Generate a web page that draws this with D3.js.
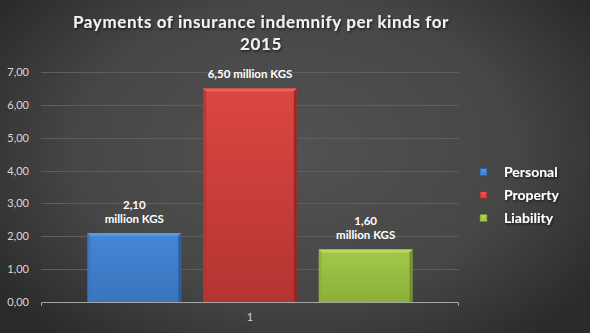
<!DOCTYPE html>
<html><head><meta charset="utf-8">
<script src="https://cdn.jsdelivr.net/npm/d3@7"></script>
<style>html,body{margin:0;padding:0;background:#3a3a3a;}svg{display:block;}</style>
</head><body>
<svg id="c" width="590" height="333"></svg>
<script>
const titleLines = ["Payments of insurance indemnify per kinds for", "2015"];
const categories = ["1"];
const seriesNames = ["Personal", "Property", "Liability"];
const values = [2.10, 6.50, 1.60];
const labelLines = [["2,10", "million KGS"], ["6,50 million KGS"], ["1,60", "million KGS"]];
const yTicks = [0, 1, 2, 3, 4, 5, 6, 7];
const yTickLabels = ["0,00", "1,00", "2,00", "3,00", "4,00", "5,00", "6,00", "7,00"];
const colors = [
  {top: "#5a9ae3", main1: "#4487d6", main2: "#3a74bd", edge: "#2c5b96"},
  {top: "#ec615d", main1: "#dc4642", main2: "#b43431", edge: "#8a2624"},
  {top: "#b9dc63", main1: "#a2c94a", main2: "#8caf3b", edge: "#6c8a2a"}
];

const svg = d3.select("#c");
const W = 590, H = 333;
const defs = svg.append("defs");
const bg = defs.append("radialGradient").attr("id", "bg")
  .attr("cx", 0.5).attr("cy", 0.45).attr("r", 0.62).attr("fx", 0.5).attr("fy", 0.45)
  .attr("gradientTransform", "translate(0.5,0.45) scale(1,1.2) translate(-0.5,-0.45)");
bg.append("stop").attr("offset", 0).attr("stop-color", "#525252");
bg.append("stop").attr("offset", 0.6).attr("stop-color", "#464646");
bg.append("stop").attr("offset", 1).attr("stop-color", "#2a2a2a");
svg.append("rect").attr("width", W).attr("height", H).attr("fill", "url(#bg)");

const sh = defs.append("filter").attr("id", "sh").attr("x", "-10%").attr("y", "-30%").attr("width", "120%").attr("height", "160%");
sh.append("feDropShadow").attr("dx", 1).attr("dy", 1.5).attr("stdDeviation", 1).attr("flood-color", "#000").attr("flood-opacity", 0.6);

colors.forEach((c, i) => {
  const g = defs.append("linearGradient").attr("id", "bar" + i).attr("x1", 0).attr("y1", 0).attr("x2", 0).attr("y2", 1);
  g.append("stop").attr("offset", 0).attr("stop-color", c.main1);
  g.append("stop").attr("offset", 1).attr("stop-color", c.main2);
});

const plot = {left: 41, right: 459, top: 72, bottom: 302};
const y = d3.scaleLinear().domain([0, 7]).range([plot.bottom, plot.top]);
const x0 = d3.scaleBand().domain(categories).range([plot.left, plot.right]).paddingInner(0).paddingOuter(0.143);
const x1 = d3.scaleBand().domain(seriesNames).range([0, x0.bandwidth()]).paddingInner(0.19).paddingOuter(0);

// gridlines
svg.append("g").selectAll("line").data(yTicks.slice(1)).join("line")
  .attr("x1", plot.left).attr("x2", plot.right)
  .attr("y1", d => Math.round(y(d)) + 0.5).attr("y2", d => Math.round(y(d)) + 0.5)
  .attr("stroke", "#5e5e5e").attr("stroke-width", 1);

// y labels
svg.append("g").selectAll("text").data(yTicks).join("text")
  .attr("x", 29).attr("y", d => y(d) + 4)
  .attr("text-anchor", "end").attr("font-family", "Lato, 'Open Sans', sans-serif").attr("font-size", 11)
  .attr("fill", "#d9d9d9").text((d, i) => yTickLabels[i]);

// bars
const data = seriesNames.map((s, i) => ({s, v: values[i], i}));
const bars = svg.append("g").selectAll("g").data(data).join("g")
  .attr("transform", d => `translate(${x0("1") + x1(d.s)},0)`);
const bw = x1.bandwidth();
bars.append("rect").attr("x", 0).attr("y", d => y(d.v)).attr("width", bw).attr("height", d => y(0) - y(d.v))
  .attr("fill", d => `url(#bar${d.i})`);
bars.append("path").attr("d", d => {
  const t = y(d.v);
  return `M0,${t} L${bw},${t} L${bw - 3},${t + 3} L3,${t + 3} Z`;
}).attr("fill", d => colors[d.i].top).attr("opacity", 0.9);
bars.append("path").attr("d", d => {
  const t = y(d.v), b = y(0);
  return `M0,${t} L3,${t + 3} L3,${b} L0,${b} Z`;
}).attr("fill", d => colors[d.i].main2).attr("opacity", 0.8);
bars.append("path").attr("d", d => {
  const t = y(d.v), b = y(0);
  return `M${bw},${t} L${bw - 3},${t + 3} L${bw - 3},${b} L${bw},${b} Z`;
}).attr("fill", d => colors[d.i].edge).attr("opacity", 0.85);

// data labels
bars.each(function(d) {
  const lines = labelLines[d.i];
  const g = d3.select(this);
  lines.forEach((ln, k) => {
    g.append("text").attr("x", bw / 2)
      .attr("y", y(d.v) - 10 - (lines.length - 1 - k) * 14)
      .attr("text-anchor", "middle").attr("font-family", "Lato, 'Open Sans', sans-serif")
      .attr("font-weight", "bold").attr("font-size", 11.5).attr("fill", "#ffffff").text(ln);
  });
});

// axis line
svg.append("path").attr("d", `M${plot.left + 0.5},${plot.bottom + 4} L${plot.left + 0.5},${plot.bottom + 0.5} L${plot.right - 0.5},${plot.bottom + 0.5} L${plot.right - 0.5},${plot.bottom + 4}`)
  .attr("fill", "none").attr("stroke", "#a6a6a6").attr("stroke-width", 1);
svg.append("g").selectAll("text").data(categories).join("text")
  .attr("x", d => x0(d) + x0.bandwidth() / 2).attr("y", 321)
  .attr("text-anchor", "middle").attr("font-family", "Lato, 'Open Sans', sans-serif").attr("font-size", 11)
  .attr("fill", "#d9d9d9").text(d => d);

// title
const tt = svg.append("text").attr("text-anchor", "middle").attr("font-family", "Lato, 'Open Sans', sans-serif")
  .attr("font-weight", "bold").attr("font-size", 17).attr("fill", "#f2f2f2")
  .attr("letter-spacing", 0.6).attr("filter", "url(#sh)");
titleLines.forEach((t, i) => tt.append("tspan").attr("x", 261).attr("y", 28 + i * 22).text(t));

// legend
const lg = svg.append("g").selectAll("g").data(data).join("g")
  .attr("transform", d => `translate(480,${172 + d.i * 23})`);
lg.append("rect").attr("x", 0).attr("y", -3.5).attr("width", 7).attr("height", 7)
  .attr("fill", d => colors[d.i].main1).attr("stroke", d => colors[d.i].edge).attr("stroke-width", 0.6);
lg.append("path").attr("d", "M1,-2.5 L6,-2.5 L3.5,0 Z").attr("fill", d => colors[d.i].top).attr("opacity", 0.9);
lg.append("text").attr("x", 24).attr("y", 5).attr("font-family", "Lato, 'Open Sans', sans-serif")
  .attr("font-weight", "bold").attr("font-size", 14).attr("fill", "#ffffff").attr("filter", "url(#sh)")
  .text(d => d.s);
</script>
</body></html>
